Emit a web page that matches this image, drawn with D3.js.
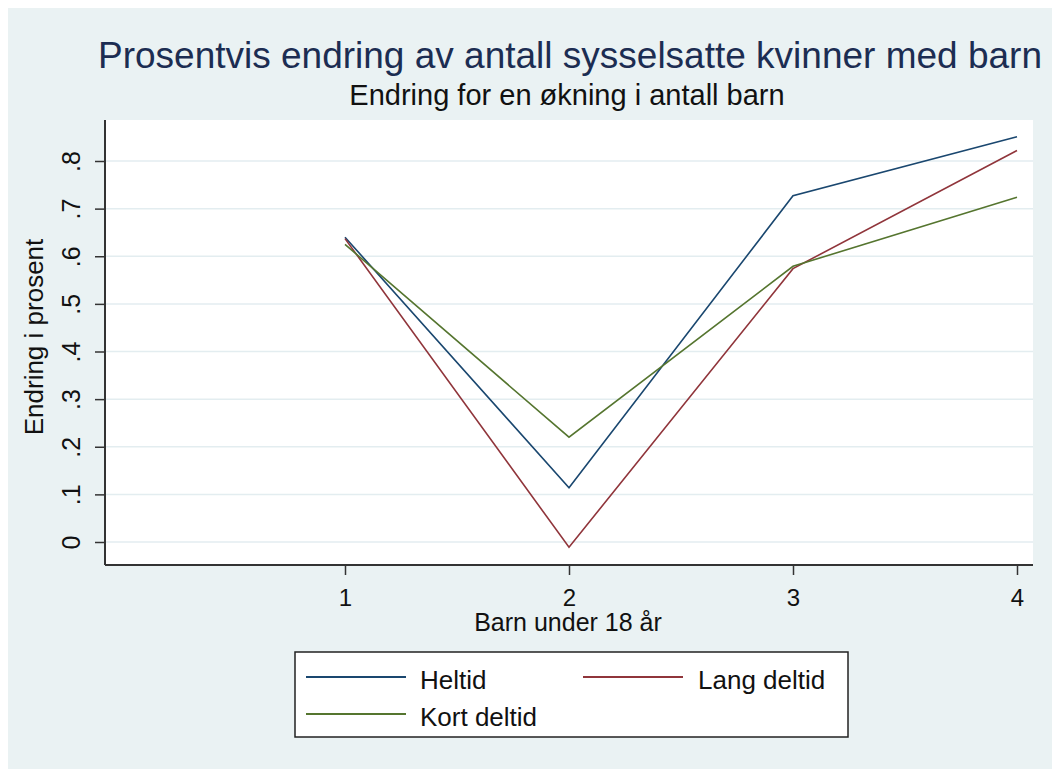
<!DOCTYPE html>
<html>
<head>
<meta charset="utf-8">
<script src="https://cdn.jsdelivr.net/npm/d3@7"></script>
<style>
  body { margin: 0; background: #ffffff; }
  text { font-family: "Liberation Sans", Arial, sans-serif; }
</style>
</head>
<body>
<div id="chart"></div>
<script>
// data
const categories = [1, 2, 3, 4];
const heltid = [0.640, 0.114, 0.727, 0.851];
const langDeltid = [0.637, -0.011, 0.574, 0.822];
const kortDeltid = [0.625, 0.220, 0.579, 0.724];
const yTicks = [0, 0.1, 0.2, 0.3, 0.4, 0.5, 0.6, 0.7, 0.8];
const yTickLabels = ["0", ".1", ".2", ".3", ".4", ".5", ".6", ".7", ".8"];
const seriesNames = ["Heltid", "Lang deltid", "Kort deltid"];

const colors = ["#1a476f", "#90353b", "#55752f"];

const series = [heltid, langDeltid, kortDeltid].map(function (vals, i) {
  return {
    name: seriesNames[i],
    color: colors[i],
    points: categories.map(function (c, j) {
      return { x: c, y: vals[j] };
    }),
  };
});

const svg = d3
  .select("#chart")
  .append("svg")
  .attr("width", 1052)
  .attr("height", 769);

// outer background
svg
  .append("rect")
  .attr("x", 8)
  .attr("y", 8)
  .attr("width", 1044)
  .attr("height", 761)
  .attr("fill", "#eaf2f3");

// plot region
const plotLeft = 105,
  plotRight = 1033,
  plotTop = 120,
  plotBottom = 565;

svg
  .append("rect")
  .attr("x", plotLeft)
  .attr("y", plotTop)
  .attr("width", plotRight - plotLeft)
  .attr("height", plotBottom - plotTop)
  .attr("fill", "white");

const x = d3.scaleLinear().domain([1, 4]).range([345, 1017]);
const y = d3.scaleLinear().domain([0, 0.8]).range([542, 161]);

// gridlines
svg
  .append("g")
  .selectAll("line")
  .data(yTicks)
  .enter()
  .append("line")
  .attr("x1", plotLeft)
  .attr("x2", plotRight)
  .attr("y1", function (d) {
    return y(d);
  })
  .attr("y2", function (d) {
    return y(d);
  })
  .attr("stroke", "#e3edf0")
  .attr("stroke-width", 1.5);

// y axis
const yAxis = d3
  .axisLeft(y)
  .tickValues(yTicks)
  .tickSize(10)
  .tickFormat(function (d, i) {
    return yTickLabels[i];
  });

const yg = svg
  .append("g")
  .attr("transform", "translate(" + plotLeft + ",0)")
  .call(yAxis);

yg.select(".domain")
  .attr("d", "M0," + plotTop + "V" + plotBottom)
  .attr("stroke", "#333")
  .attr("stroke-width", 2);
yg.selectAll(".tick line").attr("stroke", "#333").attr("stroke-width", 1.5);
yg.selectAll(".tick text")
  .attr("x", null)
  .attr("dy", null)
  .attr("transform", "translate(-25,0) rotate(-90)")
  .attr("text-anchor", "middle")
  .attr("fill", "#111")
  .style("font-size", "25px")
  .style("font-family", "Liberation Sans, Arial, sans-serif");

// x axis
const xAxis = d3.axisBottom(x).tickValues(categories).tickSize(10).tickFormat(d3.format("d"));

const xg = svg
  .append("g")
  .attr("transform", "translate(0," + plotBottom + ")")
  .call(xAxis);

xg.select(".domain")
  .attr("d", "M" + plotLeft + ",0H" + plotRight)
  .attr("stroke", "#333")
  .attr("stroke-width", 2);
xg.selectAll(".tick line").attr("stroke", "#333").attr("stroke-width", 1.5);
xg.selectAll(".tick text")
  .attr("y", 41)
  .attr("dy", null)
  .attr("fill", "#111")
  .style("font-size", "24px")
  .style("font-family", "Liberation Sans, Arial, sans-serif");

// lines
const line = d3
  .line()
  .x(function (d) {
    return x(d.x);
  })
  .y(function (d) {
    return y(d.y);
  });

svg
  .append("g")
  .selectAll("path")
  .data(series)
  .enter()
  .append("path")
  .attr("d", function (d) {
    return line(d.points);
  })
  .attr("fill", "none")
  .attr("stroke", function (d) {
    return d.color;
  })
  .attr("stroke-width", 1.6);

// titles
svg
  .append("text")
  .attr("x", 570)
  .attr("y", 68)
  .attr("text-anchor", "middle")
  .attr("fill", "#1c2d52")
  .style("font-size", "37px")
  .text("Prosentvis endring av antall sysselsatte kvinner med barn");

svg
  .append("text")
  .attr("x", 567)
  .attr("y", 105)
  .attr("text-anchor", "middle")
  .attr("fill", "#111")
  .style("font-size", "29px")
  .text("Endring for en økning i antall barn");

svg
  .append("text")
  .attr("transform", "translate(43,337) rotate(-90)")
  .attr("text-anchor", "middle")
  .attr("fill", "#111")
  .style("font-size", "26px")
  .text("Endring i prosent");

svg
  .append("text")
  .attr("x", 568)
  .attr("y", 631)
  .attr("text-anchor", "middle")
  .attr("fill", "#111")
  .style("font-size", "25px")
  .text("Barn under 18 år");

// Legend
svg
  .append("rect")
  .attr("x", 295)
  .attr("y", 652)
  .attr("width", 553)
  .attr("height", 85)
  .attr("fill", "white")
  .attr("stroke", "#222")
  .attr("stroke-width", 1.5);

const legendPos = [
  { x: 306, y: 677 },
  { x: 583, y: 677 },
  { x: 306, y: 714 },
];

const legend = svg
  .append("g")
  .selectAll(".legends")
  .data(series)
  .enter()
  .append("g")
  .classed("legends", true)
  .attr("transform", function (d, i) {
    return "translate(" + legendPos[i].x + "," + legendPos[i].y + ")";
  });

legend
  .append("line")
  .attr("x1", 0)
  .attr("x2", 100)
  .attr("stroke", function (d) {
    return d.color;
  })
  .attr("stroke-width", 2);

legend
  .append("text")
  .attr("x", function (d, i) {
    return i == 1 ? 115 : 114;
  })
  .attr("y", 12)
  .attr("fill", "#111")
  .style("font-size", "26px")
  .text(function (d) {
    return d.name;
  });
</script>
</body>
</html>
